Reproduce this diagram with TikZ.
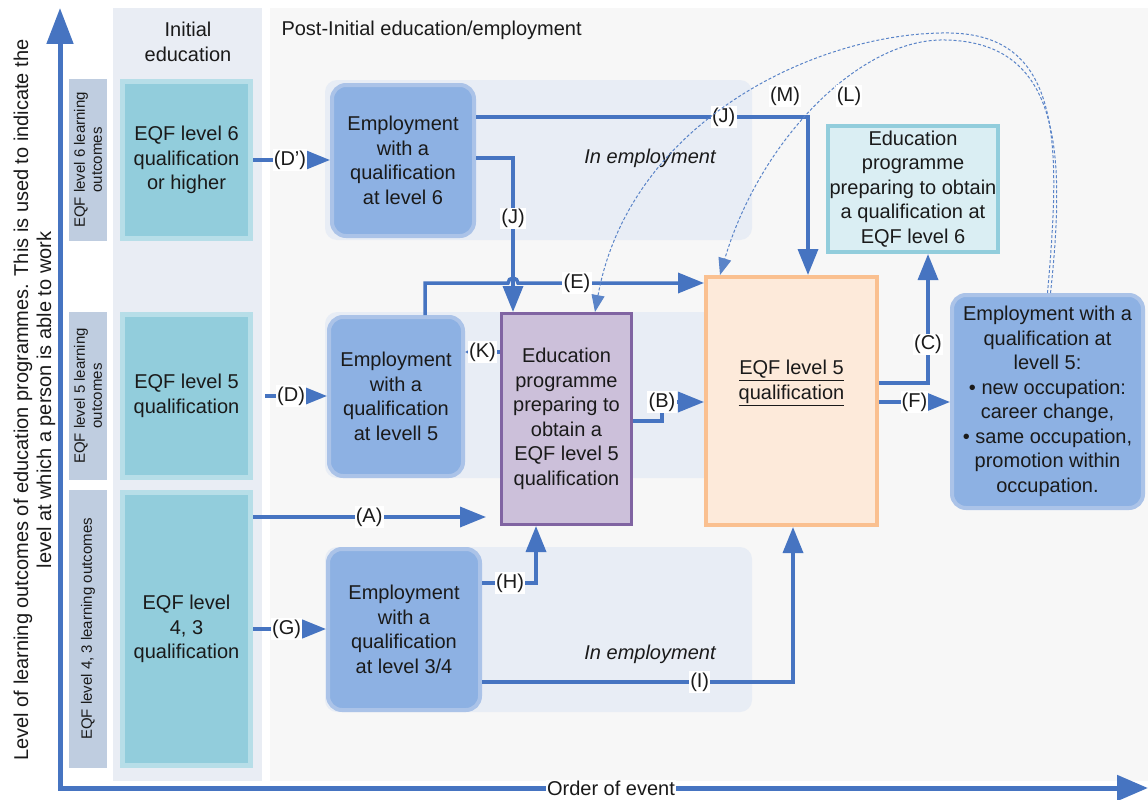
\documentclass[tikz,border=0pt]{standalone}
\usepackage{fontspec}
\setmainfont{Liberation Sans}
\usetikzlibrary{arrows.meta}
\definecolor{axisblue}{HTML}{4674C1}
\definecolor{dashblue}{HTML}{5A84C8}
\definecolor{tealfill}{HTML}{92CDDC}
\definecolor{tealborder}{HTML}{B7DEE8}
\definecolor{empfill}{HTML}{8DB1E3}
\definecolor{empborder}{HTML}{ABC3E8}
\definecolor{rowfill}{HTML}{BFCDE0}
\definecolor{colfill}{HTML}{E9EDF4}
\definecolor{postfill}{HTML}{F7F7F7}
\definecolor{bandfill}{HTML}{E8EDF5}
\definecolor{purplefill}{HTML}{CCC0DA}
\definecolor{purpleborder}{HTML}{8064A2}
\definecolor{orangefill}{HTML}{FDEADA}
\definecolor{orangeborder}{HTML}{FAC090}
\definecolor{edufill}{HTML}{DAEEF3}
\definecolor{eduborder}{HTML}{92CDDC}
\definecolor{txt}{HTML}{1A1A1A}
\begin{document}
\begin{tikzpicture}[x=1pt,y=-1pt,
  every node/.style={font=\fontsize{20}{24.5}\selectfont, text=txt},
  tealbox/.style={fill=tealfill, draw=tealborder, line width=5pt, align=center, inner sep=0pt},
  rowbox/.style={fill=rowfill, rotate=90, align=center, inner sep=0pt, font=\fontsize{15}{17}\selectfont},
  empbox/.style={fill=empfill, draw=empborder, line width=4pt, rounded corners=14pt, align=center, inner sep=0pt},
  conn/.style={draw=axisblue, line width=3.5pt, -{Triangle[length=26pt,width=20pt]}},
  lbl/.style={fill=white, inner sep=1.2pt},
  dsh/.style={draw=dashblue, line width=1pt, dash pattern=on 3pt off 2pt, -{Triangle[length=17pt,width=13pt]}}
]
\useasboundingbox (0,0) rectangle (1148,800);
\fill[white] (0,0) rectangle (1148,800);
% backgrounds
\fill[colfill] (113,8) rectangle (262,781);
\fill[postfill] (270,8) rectangle (1148,781);
\fill[bandfill, rounded corners=12pt] (325,80) rectangle (752,240);
\fill[bandfill, rounded corners=12pt] (325,312) rectangle (752,478);
\fill[bandfill, rounded corners=12pt] (325,547) rectangle (752,712);

% axes
\draw[axisblue, line width=5pt, line join=miter, {Triangle[length=36pt,width=26pt]}-{Triangle[length=31pt,width=25pt]}] (60,8) -- (60,788) -- (1148,788);
\node[fill=white, inner sep=1pt] (xlab) at (611,788) {Order of event};
\node[rotate=90, align=center, font=\fontsize{20}{23}\selectfont] (ylab) at (34.5,400) {Level of learning outcomes of education programmes. This is used to indicate the\\level at which a person is able to work};

% headers
\node[align=center] (hinit) at (188,42) {Initial\\education};
\node[anchor=west] (hpost) at (278,30) {Post-Initial education/employment};

% row labels
\node[rowbox, minimum width=162pt, minimum height=38pt] (r6) at (88,160) {EQF level 6 learning\\outcomes};
\node[rowbox, minimum width=168pt, minimum height=38pt] (r5) at (88,396) {EQF level 5 learning\\outcomes};
\node[rowbox, minimum width=278pt, minimum height=38pt] (r43) at (88,629) {EQF level 4, 3 learning outcomes};

% initial education boxes
\node[tealbox, minimum width=128pt, minimum height=157pt] (l6) at (186.5,160) {EQF level 6\\qualification\\or higher};
\node[tealbox, minimum width=128pt, minimum height=163pt] (l5) at (186.5,396) {EQF level 5\\qualification};
\node[tealbox, minimum width=128pt, minimum height=273pt] (l43) at (186.5,629) {EQF level\\4, 3\\qualification};

% in employment labels
\node[font=\fontsize{20}{24.5}\selectfont\itshape] (ie1) at (650,158) {In employment};
\node[font=\fontsize{20}{24.5}\selectfont\itshape] (ie2) at (650,654) {In employment};

% employment boxes
\node[empbox, minimum width=142pt, minimum height=151pt] (emp6) at (403,160.5) {Employment\\with a\\qualification\\at level 6};
\node[empbox, minimum width=134pt, minimum height=159pt] (emp5) at (396,396.5) {Employment\\with a\\qualification\\at levell 5};
\node[empbox, minimum width=152pt, minimum height=161pt] (emp34) at (404,629.5) {Employment\\with a\\qualification\\at level 3/4};
\node[empbox, minimum width=191pt, minimum height=213pt] (emp5r) at (1047.5,401.5) {Employment with a\\qualification at\\levell 5:\\\textbullet\ new occupation:\\career change,\\\textbullet\ same occupation,\\promotion within\\occupation.};

% programme / qualification boxes
\node[fill=purplefill, draw=purpleborder, line width=3pt, minimum width=130pt, minimum height=211pt, align=center, inner sep=0pt] (purple) at (566.5,419) {Education\\programme\\preparing to\\obtain a\\EQF level 5\\qualification};
\node[fill=orangefill, draw=orangeborder, line width=4pt, minimum width=171pt, minimum height=248pt, inner sep=0pt] (orange) at (791.5,401) {};
\node[align=center] (orangetxt) at (791.5,383) {\underline{EQF level 5}\\\underline{qualification}};
\node[fill=edufill, draw=eduborder, line width=4pt, minimum width=170pt, minimum height=126pt, align=center, inner sep=0pt] (edu6) at (913,189) {Education\\programme\\preparing to obtain\\a qualification at\\EQF level 6};

% connectors
\draw[conn] (l6.east) -- (l6.east -| emp6.west) node[lbl, pos=0.48] {(D')};
\draw[conn] ([xshift=12pt]l5.east) -- (l5.east -| emp5.west) node[lbl, pos=0.42] {(D)};
\draw[conn] (l43.east) -- (l43.east -| emp34.west) node[lbl, pos=0.46] {(G)};
\draw[conn, shorten >=14pt] (l43.east |- 0,517) -- (purple.west |- 0,517) node[lbl, pos=0.47] {(A)};
\draw[conn] (emp6.east |- 0,117) -| ([xshift=16.5pt]orange.north) node[lbl, pos=0.373] {(J)};
\draw[conn] (emp6.east |- 0,158) -| ([xshift=-53.5pt]purple.north) node[lbl, pos=0.695] {(J)};
\draw[conn] ([xshift=29pt]emp5.north) |- (508,283) arc[start angle=180, end angle=0, radius=5pt] -- (orange.west |- 0,283);
\node[lbl] (elbl) at (577,283) {(E)};
\draw[conn, -{Triangle[length=8pt,width=8pt]}] (purple.west |- 0,352) -- (emp5.east |- 0,352) node[lbl, midway] {(K)};
\draw[conn] (purple.east |- 0,421) -- (662,421) -- (662,402) node[lbl] {(B)} -- (orange.west |- 0,402);
\draw[conn] (orange.east |- 0,383) -| ([xshift=15pt]edu6.south) node[lbl, pos=0.65] {(C)};
\draw[conn] (orange.east |- 0,402) -- (emp5r.west |- 0,402) node[lbl, midway] {(F)};
\draw[conn] (emp34.east |- 0,583) -| ([xshift=-30.5pt]purple.south) node[lbl, pos=0.26] {(H)};
\draw[conn] (emp34.east |- 0,682) -| ([xshift=1.5pt]orange.south) node[lbl, pos=0.35] {(I)};

% dashed curves
\draw[dsh] (emp5r.north) .. controls (1060,150) and (1065,35) .. (950,33) .. controls (820,31) and (630,120) .. ([xshift=28.5pt]purple.north);
\draw[dsh] ([xshift=3pt]emp5r.north) .. controls (1066,150) and (1060,42) .. (945,40) .. controls (860,38) and (760,140) .. ([xshift=-71.5pt]orange.north);
\node[lbl] (mlbl) at (785,96) {(M)};
\node[lbl] (llbl) at (849,96) {(L)};
\end{tikzpicture}
\end{document}
